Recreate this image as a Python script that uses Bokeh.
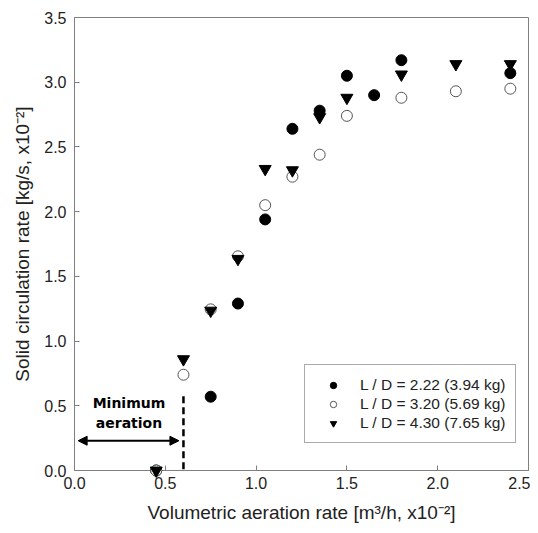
from bokeh.plotting import figure
from bokeh.models import (Range1d, FixedTicker, NumeralTickFormatter, Legend, LegendItem,
                          Arrow, NormalHead)
from bokeh.core.properties import value
from bokeh.embed import file_html
from bokeh.resources import INLINE

# ---- data ----
x_222 = [0.45, 0.75, 0.90, 1.05, 1.20, 1.35, 1.50, 1.65, 1.80, 2.40]
y_222 = [0.00, 0.57, 1.29, 1.94, 2.64, 2.78, 3.05, 2.90, 3.17, 3.07]

x_320 = [0.45, 0.60, 0.75, 0.90, 1.05, 1.20, 1.35, 1.50, 1.80, 2.10, 2.40]
y_320 = [0.00, 0.74, 1.245, 1.655, 2.05, 2.27, 2.44, 2.74, 2.88, 2.93, 2.95]

x_430 = [0.45, 0.60, 0.75, 0.90, 1.05, 1.20, 1.35, 1.50, 1.80, 2.10, 2.40]
y_430 = [0.00, 0.86, 1.235, 1.635, 2.33, 2.32, 2.73, 2.88, 3.06, 3.14, 3.14]

labels = ["L / D = 2.22 (3.94 kg)", "L / D = 3.20 (5.69 kg)", "L / D = 4.30 (7.65 kg)"]
x_ticks = [0.0, 0.5, 1.0, 1.5, 2.0, 2.5]
y_ticks = [0.0, 0.5, 1.0, 1.5, 2.0, 2.5, 3.0, 3.5]

# annotation values
min_aeration_x = 0.6
min_line_y = [0.01, 0.58]
arrow_x = [0.02, 0.575]
arrow_y = 0.23
note_x = 0.30
note_lines = ["Minimum", "aeration"]
note_y = [0.52, 0.37]

FONT = "Liberation Sans"
GRAY = "#808080"
TXT = "#222222"

p = figure(width=530, height=525, output_backend="svg", toolbar_location=None,
           x_range=Range1d(0, 2.5), y_range=Range1d(0, 3.5),
           min_border_left=74, min_border_right=2, min_border_top=17, min_border_bottom=54)
p.grid.visible = False
p.outline_line_color = GRAY
p.outline_line_width = 1
p.background_fill_color = "white"
p.border_fill_color = "white"

for ax in (p.xaxis[0], p.yaxis[0]):
    ax.axis_line_color = GRAY
    ax.major_tick_line_color = GRAY
    ax.major_tick_in = 5
    ax.major_tick_out = 0
    ax.minor_tick_line_color = None
    ax.major_label_text_font = FONT
    ax.major_label_text_font_size = "16px"
    ax.major_label_text_color = TXT
    ax.axis_label_text_font = FONT
    ax.axis_label_text_font_size = "19px"
    ax.axis_label_text_font_style = "normal"
    ax.axis_label_text_color = TXT
    ax.formatter = NumeralTickFormatter(format="0.0")

p.xaxis[0].ticker = FixedTicker(ticks=x_ticks)
p.yaxis[0].ticker = FixedTicker(ticks=y_ticks)
p.xaxis[0].major_label_standoff = 6
p.yaxis[0].major_label_standoff = 8
p.xaxis[0].axis_label = "Volumetric aeration rate [m\u00b3/h, x10\u207b\u00b2]"
p.yaxis[0].axis_label = "Solid circulation rate [kg/s, x10\u207b\u00b2]"
p.xaxis[0].axis_label_standoff = 10
p.yaxis[0].axis_label_standoff = 8

# annotations
p.segment(x0=[min_aeration_x], y0=[min_line_y[0]], x1=[min_aeration_x], y1=[min_line_y[1]],
          line_color="black", line_width=2.5, line_dash="7 4")
p.add_layout(Arrow(x_start=arrow_x[0], y_start=arrow_y, x_end=arrow_x[1], y_end=arrow_y,
                   line_color="black", line_width=2,
                   start=NormalHead(size=9, fill_color="black", line_color="black"),
                   end=NormalHead(size=9, fill_color="black", line_color="black")))
p.text(x=[note_x, note_x], y=note_y, text=note_lines, text_font=value("DejaVu Sans"),
       text_font_style="bold", text_font_size="14px", text_align="center",
       text_baseline="middle", text_color="black")

r1 = p.scatter(x_222, y_222, marker="circle", size=11, fill_color="black", line_color="black",
               level="overlay")
r2 = p.scatter(x_320, y_320, marker="circle", size=11, fill_color="white", line_color="#555555",
               line_width=1, level="overlay")
r3 = p.scatter(x_430, y_430, marker="inverted_triangle", size=12, fill_color="black",
               line_color="black", level="overlay")

legend = Legend(items=[LegendItem(label=labels[0], renderers=[r1]),
                       LegendItem(label=labels[1], renderers=[r2]),
                       LegendItem(label=labels[2], renderers=[r3])],
                location=(230, 27), padding=10, spacing=0, label_height=19,
                glyph_width=36, glyph_height=16, label_standoff=9, margin=0,
                border_line_color="#555555", border_line_width=1,
                label_text_font=FONT, label_text_font_size="15.5px", label_text_color=TXT,
                background_fill_alpha=1.0)
p.add_layout(legend)

open("out.html", "w").write(file_html(p, INLINE))
